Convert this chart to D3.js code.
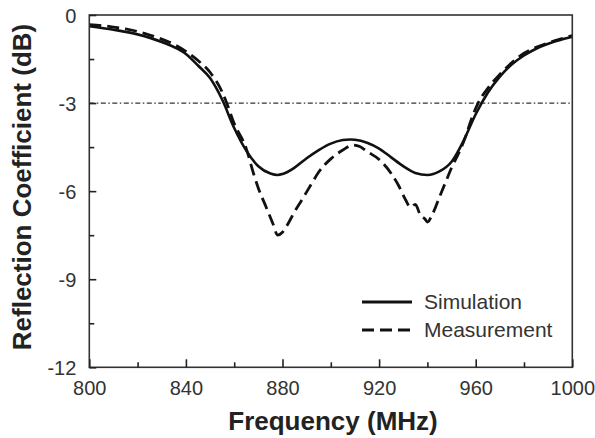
<!DOCTYPE html>
<html><head><meta charset="utf-8">
<script src="https://cdn.jsdelivr.net/npm/d3@7"></script>
<style>html,body{margin:0;padding:0;background:#fff}svg{display:block}</style>
</head><body>
<svg id="chart" width="595" height="438"></svg>
<script>
// ---- data ----
const simFreq = [800,810,820,830,840,845,850,855,860,865,870,875,878,880,885,890,895,900,905,908,910,915,920,925,930,935,940,945,950,955,960,965,970,975,980,985,990,995,1000];
const simDB   = [-0.38,-0.50,-0.66,-0.92,-1.33,-1.72,-2.15,-2.88,-3.85,-4.62,-5.15,-5.40,-5.45,-5.42,-5.20,-4.88,-4.60,-4.38,-4.26,-4.24,-4.25,-4.35,-4.55,-4.85,-5.15,-5.38,-5.45,-5.33,-5.00,-4.28,-3.38,-2.65,-2.10,-1.68,-1.38,-1.15,-0.98,-0.85,-0.74];
const measFreq = [800,805,810,815,820,825,830,835,840,845,850,855,857,860,865,868,870,873,876,878,880,882,885,888,892,895,900,905,909,912,915,920,925,928,931,933,935,937,939,940,942,945,948,950,953,956,958,961,965,970,975,980,985,990,995,1000];
const measDB   = [-0.33,-0.36,-0.41,-0.47,-0.56,-0.68,-0.82,-1.00,-1.24,-1.55,-1.95,-2.62,-3.02,-3.70,-4.55,-5.40,-5.90,-6.50,-7.10,-7.50,-7.40,-7.15,-6.70,-6.30,-5.75,-5.35,-4.90,-4.60,-4.43,-4.48,-4.65,-4.92,-5.40,-5.80,-6.30,-6.55,-6.45,-6.80,-6.95,-7.05,-6.80,-6.20,-5.60,-5.20,-4.70,-4.10,-3.60,-3.00,-2.50,-2.02,-1.62,-1.30,-1.10,-0.95,-0.82,-0.70];
const xTicks = [800,840,880,920,960,1000];
const xMinor = [820,860,900,940,980];
const yTicks = [0,-3,-6,-9,-12];
const yMinor = [-1.5,-4.5,-7.5,-10.5];
const refLevel = -3;
const seriesNames = ["Simulation","Measurement"];
const xTitle = "Frequency (MHz)";
const yTitle = "Reflection Coefficient (dB)";

// ---- layout ----
const L = 89.3, R = 572.3, T = 15, B = 367.3;
const svg = d3.select("#chart");
const x = d3.scaleLinear().domain([800,1000]).range([L,R]);
const y = d3.scaleLinear().domain([-12,0]).range([B,T]);
const font = "'Liberation Sans', Arial, sans-serif";

// reference dash-dot line
svg.append("line").attr("x1",L).attr("x2",R).attr("y1",y(refLevel)).attr("y2",y(refLevel))
  .attr("stroke","#333").attr("stroke-width",1.2).attr("stroke-dasharray","5,2.5,1.5,2.5");

const line = d3.line().x(d=>x(d[0])).y(d=>y(d[1])).curve(d3.curveMonotoneX);
const sim = simFreq.map((f,i)=>[f,simDB[i]]);
const meas = measFreq.map((f,i)=>[f,measDB[i]]);

svg.append("path").datum(meas).attr("d",line).attr("fill","none")
  .attr("stroke","#111").attr("stroke-width",2.8).attr("stroke-dasharray","12,6");
svg.append("path").datum(sim).attr("d",line).attr("fill","none")
  .attr("stroke","#111").attr("stroke-width",2.6);

// frame
svg.append("rect").attr("x",L).attr("y",T).attr("width",R-L).attr("height",B-T)
  .attr("fill","none").attr("stroke","#333").attr("stroke-width",1.6);

// x axis ticks (inward)
const gx = svg.append("g").attr("transform",`translate(0,${B})`);
gx.call(d3.axisBottom(x).tickValues(xTicks).tickSize(-8).tickFormat(d=>String(d)).tickPadding(14));
gx.append("g").call(d3.axisBottom(x).tickValues(xMinor).tickSize(-5).tickFormat(""));
// y axis ticks (inward)
const gy = svg.append("g").attr("transform",`translate(${L},0)`);
gy.call(d3.axisLeft(y).tickValues(yTicks).tickSize(-7).tickFormat(d=>String(d)).tickPadding(13));
gy.append("g").call(d3.axisLeft(y).tickValues(yMinor).tickSize(-5).tickFormat(""));
svg.selectAll(".domain").remove();
svg.selectAll(".tick line").attr("stroke","#222").attr("stroke-width",1.6);
gx.selectAll(".tick text").attr("font-family",font).attr("font-size",20).attr("fill","#333");
gy.selectAll(".tick text").attr("font-family",font).attr("font-size",20).attr("fill","#333").attr("dy","0.35em");

// axis titles
svg.append("text").attr("x",333).attr("y",430).attr("text-anchor","middle")
  .attr("font-family",font).attr("font-weight","bold").attr("font-size",26).attr("fill","#222").text(xTitle);
svg.append("text").attr("transform","translate(31,187) rotate(-90)").attr("text-anchor","middle")
  .attr("font-family",font).attr("font-weight","bold").attr("font-size",26).attr("fill","#222").text(yTitle);

// legend
const leg = svg.append("g");
const legY = [302, 330];
const dashes = [null, "12,6"];
seriesNames.forEach((n,i)=>{
  leg.append("line").attr("x1",362).attr("x2",412).attr("y1",legY[i]).attr("y2",legY[i])
    .attr("stroke","#111").attr("stroke-width",2.8).attr("stroke-dasharray",dashes[i]);
  leg.append("text").attr("x",424).attr("y",legY[i]+7).attr("font-family",font).attr("font-size",21)
    .attr("fill","#333").text(n);
});
</script>
</body></html>
